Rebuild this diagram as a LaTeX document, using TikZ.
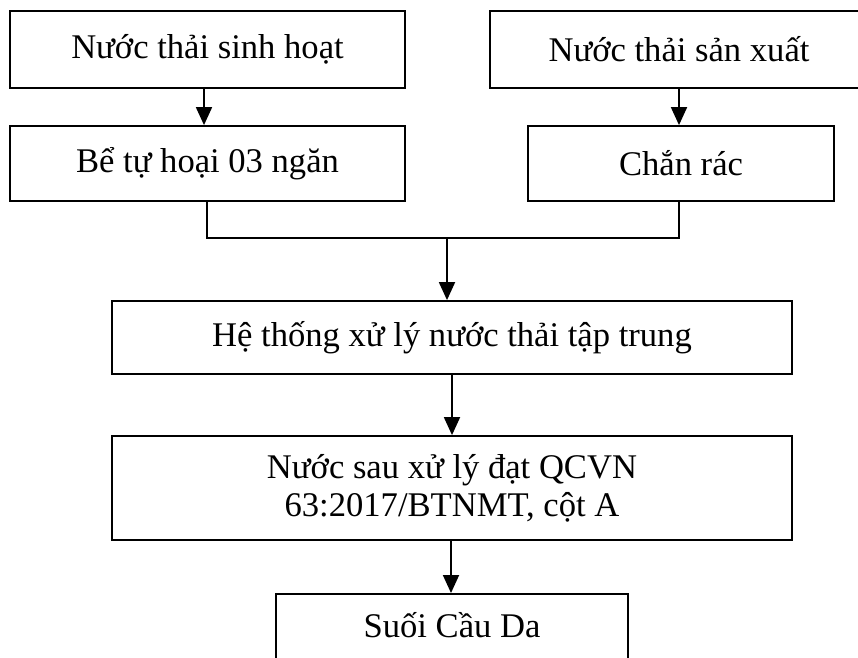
\documentclass[tikz,border=0pt]{standalone}
\usepackage{fontspec}
\setmainfont{Liberation Serif}
\usetikzlibrary{arrows.meta}
\begin{document}
\begin{tikzpicture}[x=1pt,y=-1pt,
  box/.style={draw=black,line width=1.8pt,rectangle,inner sep=0pt,align=center,
    font=\fontsize{34.6}{38}\selectfont},
  conn/.style={line width=1.8pt},
  arr/.style={line width=1.8pt,-{Triangle[length=18pt,width=16pt]}}]
\useasboundingbox (0,0) rectangle (858,657);
\clip (0,0) rectangle (858,657);
\node[box,minimum width=395pt,minimum height=77pt] (sh) at (207.5,49.5) {Nước thải sinh hoạt};
\node[box,minimum width=378pt,minimum height=77pt] (sx) at (679,49.5) {Nước thải sản xuất};
\node[box,minimum width=395pt,minimum height=75pt] (be) at (207.5,163.5) {Bể tự hoại 03 ngăn};
\node[box,minimum width=306pt,minimum height=75pt] (cr) at (681,163.5) {Chắn rác};
\node[box,minimum width=680pt,minimum height=73pt] (ht) at (452,337.5) {Hệ thống xử lý nước thải tập trung};
\node[box,minimum width=680pt,minimum height=104pt] (ns) at (452,488) {Nước sau xử lý đạt QCVN\\63:2017/BTNMT, cột A};
\node[box,minimum width=352pt,minimum height=90pt,anchor=north] (sc) at (452,593) {};
\node[font=\fontsize{34.6}{38}\selectfont,anchor=base] (sct) at (452,637) {Suối Cầu Da};
\coordinate (jl) at (207,238);
\coordinate (jr) at (679,238);
\coordinate (jm) at (447,238);
\draw[arr] (sh.south -| 204,0) -- (be.north -| 204,0);
\draw[arr] (sx.south -| 679,0) -- (cr.north -| 679,0);
\draw[conn] (be.south -| jl) -- (jl) -- (jr) -- (cr.south -| jr);
\draw[arr] (jm) -- (ht.north -| jm);
\draw[arr] (ht.south -| 452,0) -- (ns.north -| 452,0);
\draw[arr] (ns.south -| 451,0) -- (sc.north -| 451,0);
\end{tikzpicture}
\end{document}
